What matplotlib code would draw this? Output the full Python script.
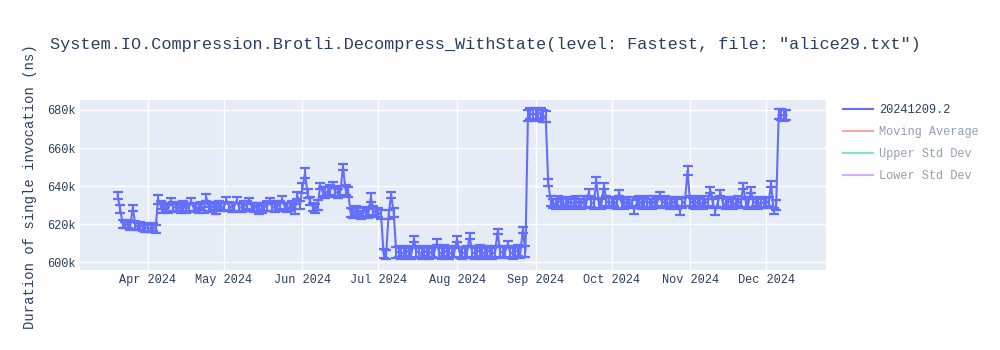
# Brotli decompress benchmark history

import matplotlib
matplotlib.use('Agg')
import matplotlib.pyplot as plt
import matplotlib.dates as mdates
from matplotlib.lines import Line2D
from matplotlib.ticker import FuncFormatter
import pandas as pd

plt.rcParams['font.family'] = ['Liberation Mono', 'DejaVu Sans Mono']

title = 'System.IO.Compression.Brotli.Decompress_WithState(level: Fastest, file: "alice29.txt")'
ylabel = 'Duration of single invocation (ns)'
series_name = '20241209.2'
legend_names = ['Moving Average', 'Upper Std Dev', 'Lower Std Dev']

# one value per day, 2024-03-20 .. 2024-12-09, in thousands of ns
mar = [635, 628, 620, 619.5, 620, 619, 628.5, 619.5, 618.5, 619, 618.5, 618]
apr = [618, 617.5, 618.5, 617.5, 633, 630, 628.5, 629, 628, 632, 629, 628.5, 629, 628, 629.5,
       628, 629, 632, 628.5, 629, 628, 629.5, 627.5, 634, 629, 628.5, 629.5, 628, 630, 629]
may = [629, 632.5, 629.5, 628.5, 629, 632.5, 629, 628.5, 629.5, 630, 632, 629, 628.5, 629, 627.5,
       628, 629, 629.5, 632, 629, 628.5, 629.5, 630, 633, 629, 628.5, 629, 630, 628, 635, 630]
jun = [639, 647, 636, 632, 629, 628, 630, 640, 637, 636.5, 637, 638, 640.5, 637, 636,
       637.5, 650, 638, 637, 626, 625.5, 627, 626, 625, 626.5, 626, 625.5, 634, 627, 626]
jul = [626, 625, 604.5, 604, 625, 635.5, 626, 605, 605.5, 604.5, 605, 606, 605, 604.5, 612,
       605.5, 605, 604.5, 606, 605, 604.5, 605.5, 605, 610.5, 605, 604.5, 606, 605, 604.5, 605, 605.5]
aug = [612, 605, 604.5, 605, 605.5, 613.5, 605, 604.5, 605.5, 606, 604.5, 605, 606, 605.5, 604.5,
       605, 616, 605.5, 605, 605.5, 609.5, 605, 604.5, 605.5, 606, 605, 617, 605.5, 677, 678, 677.5]
sep = [678, 677.5, 678.5, 677, 676.5, 641.8, 632, 631, 630.5, 632, 631.5, 630.5, 631, 632, 630.5,
       631.5, 632, 631, 630.5, 632, 631, 636.5, 631.5, 630.5, 643, 631, 630.5, 640, 632, 631]
oct_ = [631.5, 632, 630.5, 636.5, 631, 630.5, 632, 631.5, 630.5, 627.5, 631, 632, 630.5, 631.5, 632,
        631, 630.5, 632, 631.5, 635, 631, 632, 631.5, 630.5, 631, 632, 630.5, 627, 631, 632, 648]
nov = [632, 631, 630.5, 632, 631.5, 630.5, 631, 632, 638, 631, 627, 631.5, 636.5, 631, 630.5,
       632, 631.5, 630.5, 631, 632, 631, 640, 631.5, 630.5, 638, 631, 632, 630.5, 631.5, 631]
dec = [631, 632, 641, 627, 630, 678, 677.5, 677, 677.5]

mar_err = [2, 2, 2, 1.8, 2, 2.2, 1.5, 2, 1.8, 2, 2.2, 2]
apr_err = [2, 1.8, 2, 2.2, 2.3, 2, 2.5, 2.2, 2, 1.7, 2.4, 2, 2.3, 2.1, 2.5,
           2, 2.2, 1.7, 2.4, 2, 2.3, 2.1, 1.5, 2, 2.4, 2.2, 2, 2.5, 2.1, 2.3]
may_err = [2.2, 1.5, 2, 2.4, 2.1, 1.6, 2.3, 2, 2.5, 2.1, 1.6, 2.2, 2.4, 2, 2,
           2.3, 2.1, 2.4, 1.6, 2.2, 2, 2.5, 2.1, 2, 2.3, 2.4, 2, 2.2, 2.5, 2, 2.3]
jun_err = [2.5, 2.7, 2.5, 2.2, 2, 2.3, 2.4, 1.6, 2.5, 2.8, 2.4, 2.6, 1.5, 2.7, 2.5,
           2.6, 1.8, 2.5, 2.7, 2.4, 2.2, 2.5, 2.3, 2.1, 2.4, 2.2, 2.5, 2.5, 2.3, 2.2]
jul_err = [2.3, 2.5, 2.4, 2.2, 2.5, 1.6, 2.3, 2.9, 2.7, 3.1, 2.8, 2.6, 3, 2.7, 1.5,
           2.9, 2.8, 3.1, 2.6, 2.9, 2.7, 3, 2.8, 1.4, 2.9, 3.1, 2.7, 2.8, 3, 2.6, 2.9]
aug_err = [1.6, 2.8, 3, 2.7, 2.9, 1.6, 2.8, 3.1, 2.7, 2.9, 3, 2.8, 2.6, 2.9, 3.1,
           2.8, 1.5, 2.9, 2.7, 3, 1.5, 2.8, 3.1, 2.7, 2.9, 2.8, 1.5, 3, 3, 2.8, 3.1]
sep_err = [2.8, 3, 2.7, 3.1, 2.9, 1.8, 2.6, 2.4, 2.7, 2.5, 2.3, 2.6, 2.8, 2.4, 2.6,
           2.5, 2.7, 2.3, 2.6, 2.8, 2.4, 1.9, 2.6, 2.5, 1.6, 2.7, 2.4, 1.6, 2.6, 2.5]
oct_err = [2.6, 2.4, 2.7, 1.6, 2.5, 2.8, 2.4, 2.6, 2.3, 2, 2.7, 2.5, 2.4, 2.6, 2.8,
           2.3, 2.5, 2.7, 2.4, 2, 2.6, 2.5, 2.8, 2.4, 2.6, 2.3, 2.5, 2, 2.7, 2.4, 2.4]
nov_err = [2.5, 2.7, 2.4, 2.6, 2.8, 2.5, 2.3, 2.6, 1.5, 2.4, 2, 2.7, 1.5, 2.5, 2.6,
           2.4, 2.8, 2.5, 2.3, 2.6, 2.4, 1.6, 2.7, 2.5, 1.5, 2.6, 2.4, 2.8, 2.5, 2.6]
dec_err = [2.5, 2.4, 1.7, 1.5, 2.6, 2.5, 2.8, 3, 2.7]

vals = [v * 1000 for v in mar + apr + may + jun + jul + aug + sep + oct_ + nov + dec]
errs = [e * 1000 for e in mar_err + apr_err + may_err + jun_err + jul_err + aug_err +
        sep_err + oct_err + nov_err + dec_err]
dates = pd.date_range('2024-03-20', '2024-12-09', freq='D')

blue = '#636efa'
txt = '#2a3f5f'

fig = plt.figure(figsize=(10, 3.5), dpi=100)
ax = fig.add_axes([0.08, 1 - 270 / 350, 0.746, 170 / 350])
ax.set_facecolor('#E5ECF6')

ax.errorbar(dates, vals, yerr=errs, color=blue, lw=1.5, elinewidth=1.5,
            capsize=3.4, capthick=1.6, zorder=3)

ax.set_xlim(pd.Timestamp('2024-03-05 04:00'), pd.Timestamp('2024-12-24 16:00'))
ax.set_ylim(595800, 685260)
ax.set_yticks([600000, 620000, 640000, 660000, 680000])
ax.yaxis.set_major_formatter(FuncFormatter(lambda v, p: f'{v / 1000:.0f}k'))
ax.xaxis.set_major_locator(mdates.MonthLocator())
ax.xaxis.set_major_formatter(mdates.DateFormatter('%b %Y'))
ax.grid(color='white', lw=1)
ax.set_axisbelow(True)
for s in ax.spines.values():
    s.set_visible(False)
ax.tick_params(length=0, labelsize=8.6, labelcolor=txt, pad=3)

fig.text(0.05, 1 - 45 / 350, title, fontsize=12.2, color=txt, va='center')
fig.text(0.03, 1 - 187 / 350, ylabel, fontsize=10, color=txt, rotation=90,
         va='center', ha='center')

handles = [Line2D([], [], color=blue, lw=1.5),
           Line2D([], [], color='#EF553B', lw=1.5, alpha=0.5),
           Line2D([], [], color='#00cc96', lw=1.5, alpha=0.5),
           Line2D([], [], color='#ab63fa', lw=1.5, alpha=0.5)]
leg = fig.legend(handles, [series_name] + legend_names, loc='upper left',
                 bbox_to_anchor=(0.843, 1 - 104 / 350), frameon=False, fontsize=8.6,
                 handlelength=2.5, handletextpad=0.5, labelspacing=0.85,
                 borderpad=0, borderaxespad=0)
for i, t in enumerate(leg.get_texts()):
    t.set_color(txt)
    if i > 0:
        t.set_alpha(0.5)

fig.savefig('out.png', dpi=100)
